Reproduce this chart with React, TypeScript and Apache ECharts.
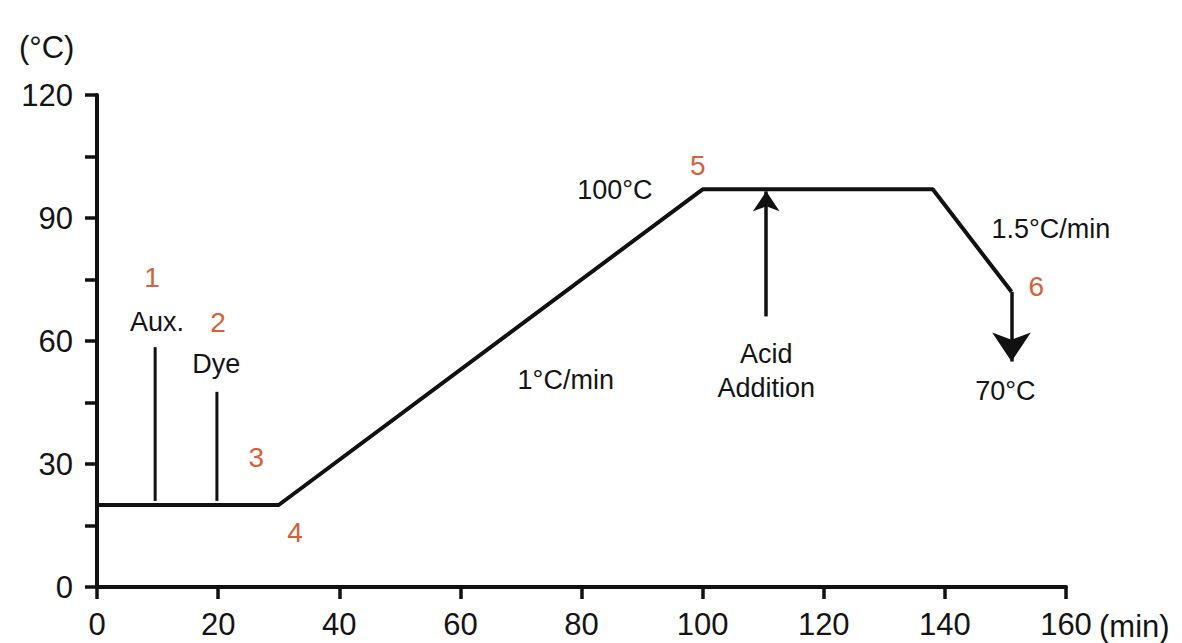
import React, { useEffect, useRef } from "react";
import * as echarts from "echarts";

// Temperature profile (time in min, temperature in °C)
const profileTime = [0, 30, 100, 138, 151];
const profileTemp = [20, 20, 97, 97, 72];

// Auxiliary / dye addition markers
const auxTime = [9.6, 9.6];
const auxTemp = [21, 58.5];
const dyeTime = [19.8, 19.8];
const dyeTemp = [21, 47.6];

// Arrows
const acidArrowTime = [110.5, 110.5];
const acidArrowTemp = [66, 96.5];
const coolArrowTime = [151, 151];
const coolArrowTemp = [72, 55];

// Step numbers
const stepNames = ["1", "2", "3", "4", "5", "6"];
const stepTime = [9.1, 20, 26.3, 32.7, 99.2, 155.1];
const stepTemp = [75.4, 64.4, 31.7, 13.4, 102.9, 73.2];

// Annotation texts
const noteTexts = ["Aux.", "Dye", "1°C/min", "Acid\nAddition", "100°C", "1.5°C/min", "70°C"];
const noteTime = [9.9, 19.7, 77.4, 110.5, 85.5, 157.5, 150];
const noteTemp = [64.6, 54.4, 50.5, 52.7, 96.8, 87.3, 47.8];

// Axes
const xMin = 0, xMax = 160, xStep = 20;
const yMin = 0, yMax = 120, yStep = 15, yLabelStep = 30;

const FONT = "'Liberation Sans', Arial, Helvetica, sans-serif";
const INK = "#111111";
const TEXT = "#141414";
const RED = "#d4623a";

const pairs = (xs: number[], ys: number[]) => xs.map((x, i) => [x, ys[i]]);

export default function App() {
  const ref = useRef<HTMLDivElement>(null);
  useEffect(() => {
    if (!ref.current) return;
    const chart = echarts.init(ref.current, null, { renderer: "svg" });
    const arrowSeries = (xs: number[], ys: number[], size: number) => ({
      type: "line",
      data: [],
      silent: true,
      markLine: {
        silent: true,
        symbol: ["none", "arrow"],
        symbolSize: size,
        label: { show: false },
        lineStyle: { color: INK, width: 3.5, type: "solid" },
        data: [[{ coord: [xs[0], ys[0]] }, { coord: [xs[1], ys[1]] }]],
      },
    });
    const plainLine = (xs: number[], ys: number[], w: number) => ({
      type: "line",
      data: pairs(xs, ys),
      symbol: "none",
      silent: true,
      lineStyle: { color: INK, width: w },
    });
    const labelSeries = (names: string[], xs: number[], ys: number[], color: string, size: number) => ({
      type: "scatter",
      silent: true,
      symbolSize: 1,
      itemStyle: { color: "rgba(255,255,255,0)" },
      data: names.map((n, i) => ({ name: n, value: [xs[i], ys[i]] })),
      label: {
        show: true,
        position: "inside",
        formatter: "{b}",
        color,
        fontSize: size,
        lineHeight: 34,
        align: "center",
        fontFamily: FONT,
        textBorderWidth: 0,
        opacity: 1,
      },
    });
    chart.setOption({
      animation: false,
      backgroundColor: "#ffffff",
      grid: { left: 97, right: 116, top: 95, bottom: 56 },
      xAxis: {
        type: "value",
        min: xMin,
        max: xMax,
        interval: xStep,
        splitLine: { show: false },
        axisLine: { show: true, onZero: false, lineStyle: { color: INK, width: 4 } },
        axisTick: { show: true, length: 12, lineStyle: { color: INK, width: 3.5 } },
        axisLabel: { color: TEXT, fontSize: 31, fontFamily: FONT, margin: 22 },
      },
      yAxis: {
        type: "value",
        min: yMin,
        max: yMax,
        interval: yStep,
        splitLine: { show: false },
        axisLine: { show: true, onZero: false, lineStyle: { color: INK, width: 4 } },
        axisTick: { show: true, length: 12, lineStyle: { color: INK, width: 3.5 } },
        axisLabel: {
          color: TEXT,
          fontSize: 31,
          fontFamily: FONT,
          margin: 24,
          formatter: (v: number) => (v % yLabelStep === 0 ? String(v) : ""),
        },
      },
      graphic: [
        { type: "text", left: 19, top: 32, style: { text: "(°C)", fontSize: 31, fontFamily: FONT, fill: TEXT } },
        { type: "text", left: 1099, top: 611, style: { text: "(min)", fontSize: 31, fontFamily: FONT, fill: TEXT } },
      ],
      series: [
        plainLine(profileTime, profileTemp, 4),
        plainLine(auxTime, auxTemp, 3),
        plainLine(dyeTime, dyeTemp, 3),
        arrowSeries(acidArrowTime, acidArrowTemp, 20),
        arrowSeries(coolArrowTime, coolArrowTemp, 29),
        labelSeries(stepNames, stepTime, stepTemp, RED, 28),
        labelSeries(noteTexts, noteTime, noteTemp, TEXT, 27),
      ],
    });
    return () => chart.dispose();
  }, []);
  return (
    <div
      ref={ref}
      style={{ position: "fixed", left: 0, top: 0, width: 1182, height: 643 }}
    />
  );
}
